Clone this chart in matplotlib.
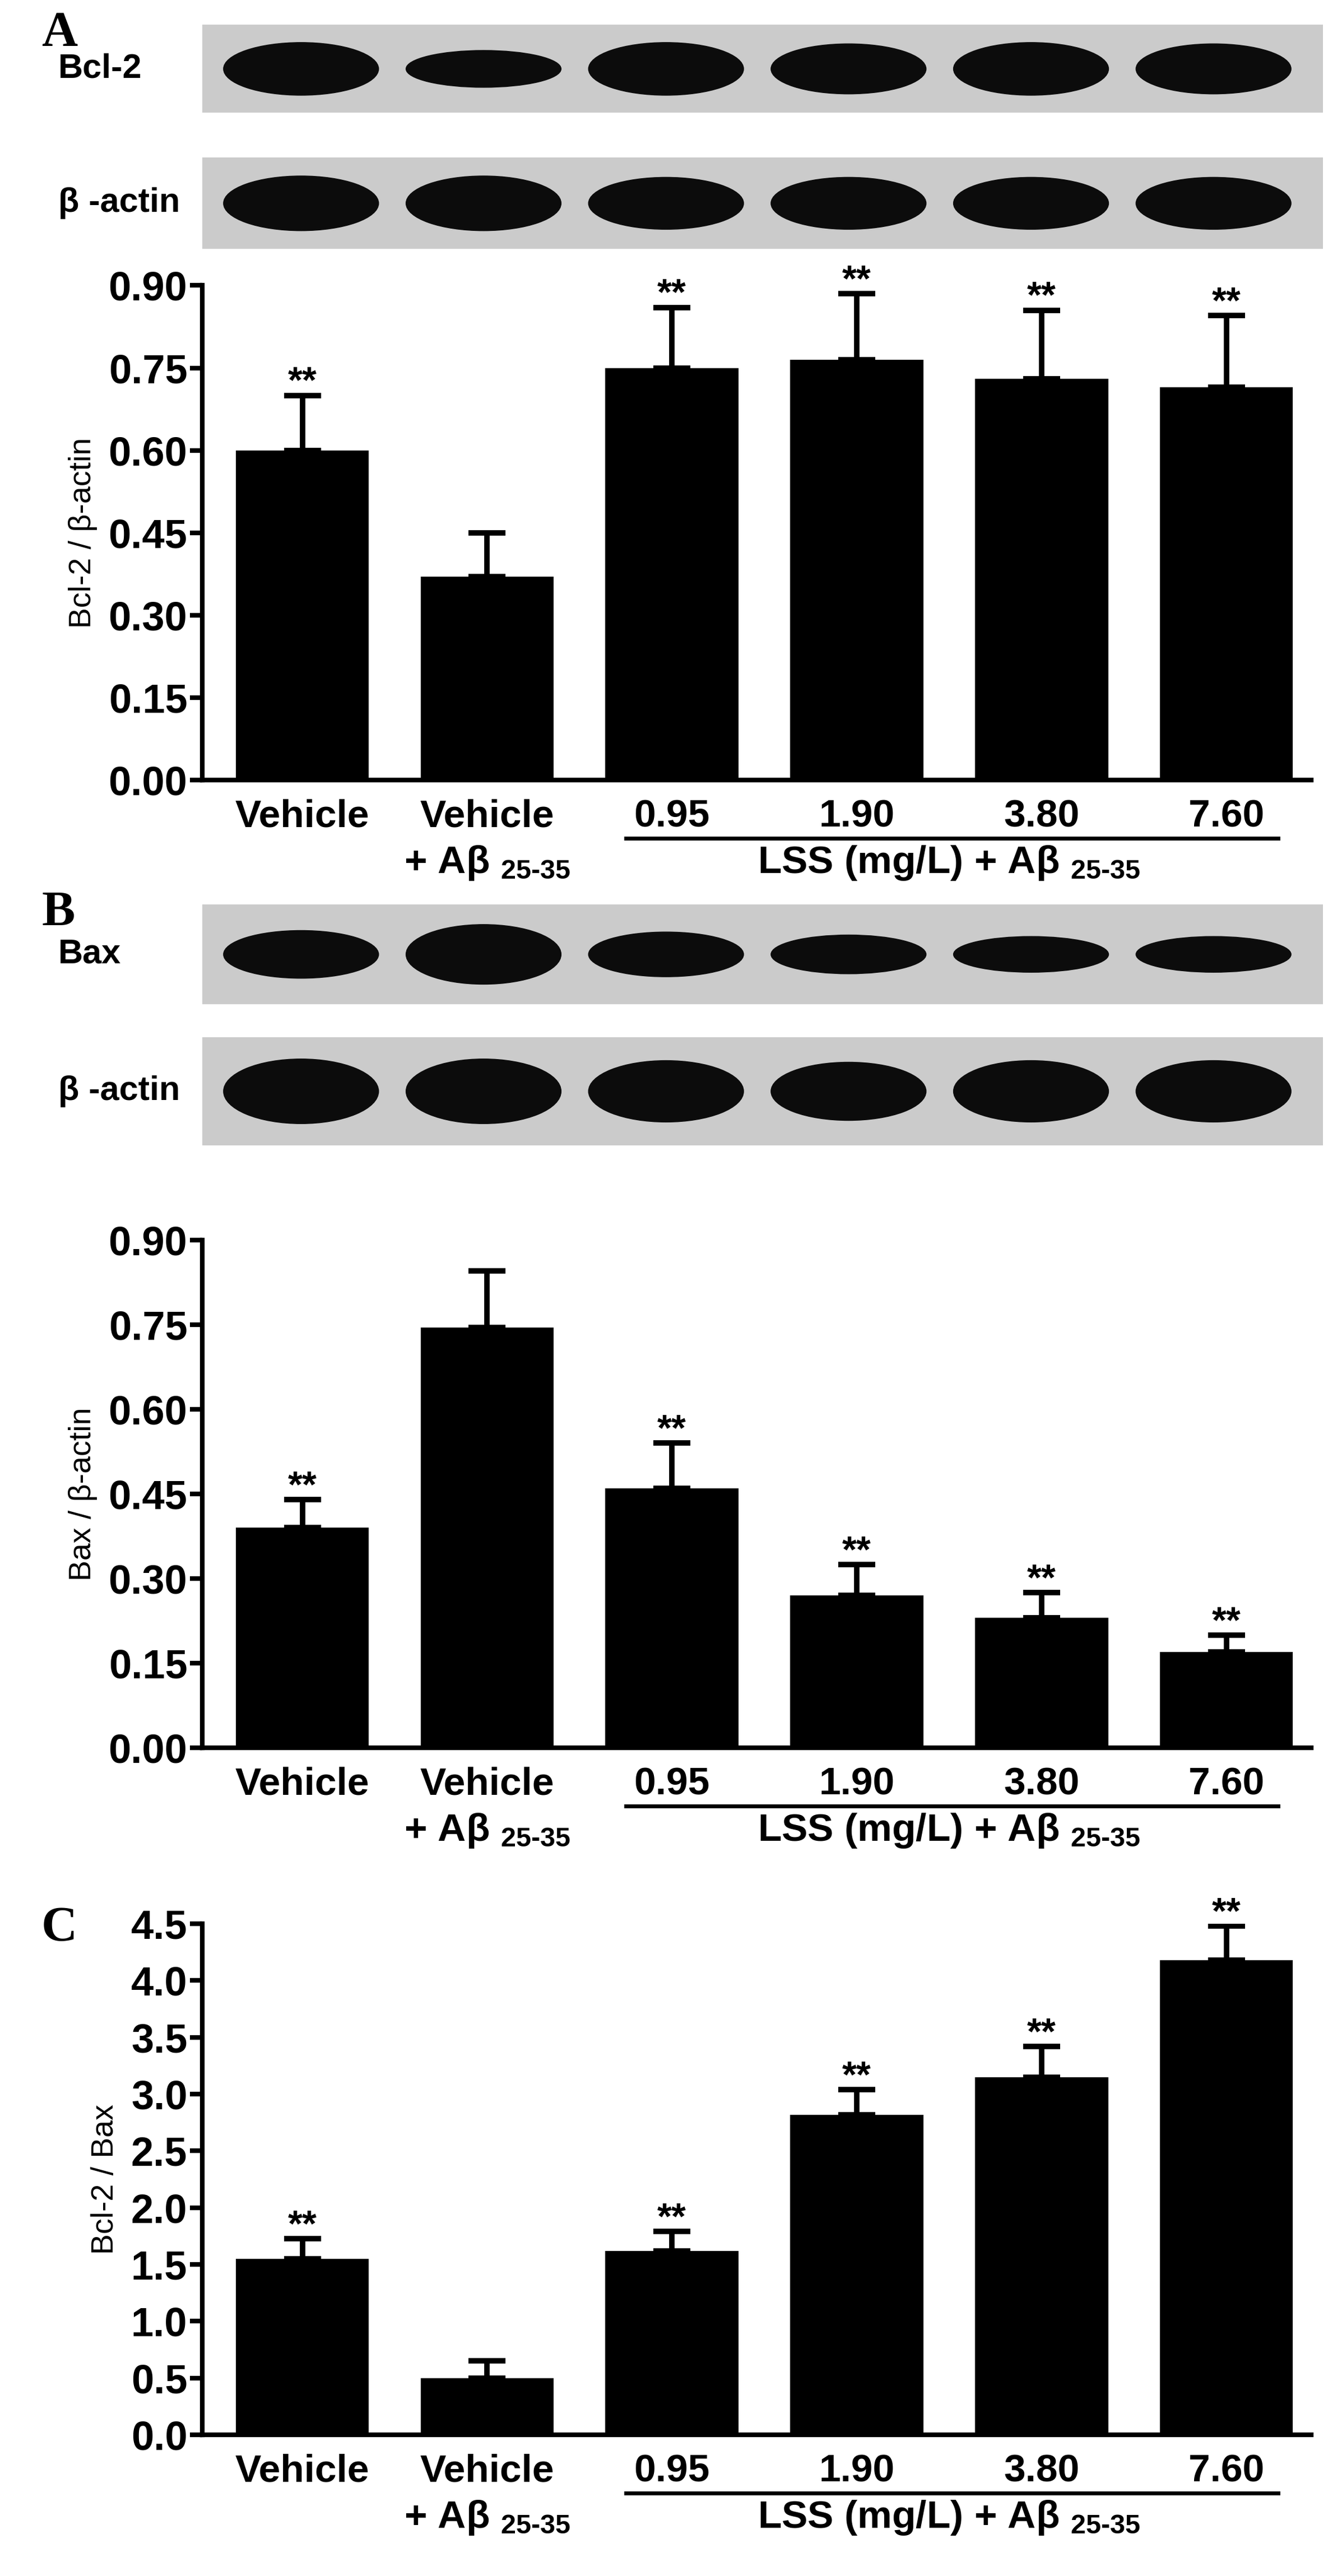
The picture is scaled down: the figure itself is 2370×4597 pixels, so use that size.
import matplotlib
matplotlib.use("Agg")
import matplotlib.pyplot as plt
from matplotlib.patches import Ellipse, Rectangle
import numpy as np

plt.rcParams["font.family"] = "Liberation Sans"
plt.rcParams["font.weight"] = "bold"
plt.rcParams["mathtext.fontset"] = "custom"
plt.rcParams["mathtext.rm"] = "Liberation Sans:bold"
plt.rcParams["mathtext.it"] = "Liberation Sans:bold"
plt.rcParams["mathtext.bf"] = "Liberation Sans:bold"

groups = ["Vehicle", "Vehicle", "0.95", "1.90", "3.80", "7.60"]
bcl2_mean = [0.60, 0.37, 0.75, 0.765, 0.73, 0.715]
bcl2_err = [0.10, 0.08, 0.11, 0.12, 0.125, 0.13]
bax_mean = [0.39, 0.745, 0.46, 0.27, 0.23, 0.17]
bax_err = [0.05, 0.10, 0.08, 0.055, 0.045, 0.03]
ratio_mean = [1.55, 0.50, 1.62, 2.82, 3.15, 4.18]
ratio_err = [0.18, 0.15, 0.17, 0.22, 0.27, 0.30]
sig = ["**", "", "**", "**", "**", "**"]

bcl2_band = [1.0, 0.7, 1.0, 0.95, 1.0, 0.95]
actinA_band = [1.0, 1.0, 0.95, 0.95, 0.95, 0.95]
bax_band = [0.8, 1.0, 0.75, 0.65, 0.6, 0.6]
actinB_band = [1.0, 1.0, 0.95, 0.9, 0.95, 0.95]

W, H = 800.0, 1552.0
fig = plt.figure(figsize=(23.7, 45.97), dpi=100)

def fx(x): return x / W
def fy(y): return 1 - y / H

def blot(y0, y1, bands, label, letter=None):
    ax = fig.add_axes([fx(122), fy(y1), fx(797) - fx(122), (y1 - y0) / H])
    ax.set_xlim(-0.54, 5.6); ax.set_ylim(0, 1)
    ax.axis("off")
    ax.add_patch(Rectangle((-0.54, 0), 6.14, 1, color="#cbcbcb", zorder=0))
    for i, b in enumerate(bands):
        ax.add_patch(Ellipse((i, 0.5), 0.85, 0.6 * b, color="#0c0c0c", zorder=1))
    fig.text(fx(35), fy((y0 + y1) / 2), label, fontsize=44, va="center", ha="left")
    if letter:
        fig.text(fx(25), fy(y0 + 5), letter, fontsize=64, family="Liberation Serif",
                 weight="bold", va="center", ha="left")

def ticks_fmt(t):
    return [f"{v:.2f}" if max(t) < 1 else f"{v:.1f}" for v in t]

def chart(ybot, ytop, means, errs, ylim, ticks, ylabel, letter=None):
    ax = fig.add_axes([fx(122), fy(ybot), fx(790) - fx(122), (ybot - ytop) / H])
    x = np.arange(len(means))
    ax.bar(x, means, width=0.72, color="black")
    ax.errorbar(x, means, yerr=[np.zeros(len(errs)), errs], fmt="none",
                ecolor="black", elinewidth=7, capsize=24, capthick=7)
    for i, (m, e, s) in enumerate(zip(means, errs, sig)):
        if s:
            ax.text(i, m + e - ylim * 0.01, s, ha="center", va="bottom", fontsize=48)
    ax.set_xlim(-0.54, 5.46); ax.set_ylim(0, ylim)
    ax.set_yticks(ticks)
    ax.set_yticklabels(ticks_fmt(ticks), fontsize=52)
    ax.set_xticks([])
    for s in ["top", "right"]:
        ax.spines[s].set_visible(False)
    for s in ["left", "bottom"]:
        ax.spines[s].set_linewidth(6)
    ax.tick_params(axis="y", width=6, length=16)
    ax.set_ylabel(ylabel, fontsize=40, labelpad=14)
    tr = ax.get_xaxis_transform()
    h = ybot - ytop
    y1 = -22 / h; y2 = -50 / h; yl = -35 / h
    for i, g in enumerate(groups):
        ax.text(i, y1, g, transform=tr, ha="center", va="center", fontsize=50)
    ax.text(1, y2, r"+ Aβ $_{25\text{-}35}$", transform=tr,
            ha="center", va="center", fontsize=50)
    ax.plot([1.75, 5.28], [yl, yl], transform=tr, color="black", lw=5, clip_on=False)
    ax.text(3.5, y2, r"LSS (mg/L) + Aβ $_{25\text{-}35}$", transform=tr, ha="center",
            va="center", fontsize=50)
    if letter:
        fig.text(fx(25), fy(ytop + 3), letter, fontsize=64, family="Liberation Serif",
                 weight="bold", va="center", ha="left")
    return ax

blot(15, 68, bcl2_band, "Bcl-2", "A")
blot(95, 150, actinA_band, "β -actin")
chart(470, 172, bcl2_mean, bcl2_err, 0.9, [0, 0.15, 0.30, 0.45, 0.60, 0.75, 0.90],
      "Bcl-2 / β-actin")
blot(545, 605, bax_band, "Bax", "B")
blot(625, 690, actinB_band, "β -actin")
chart(1053, 747, bax_mean, bax_err, 0.9, [0, 0.15, 0.30, 0.45, 0.60, 0.75, 0.90],
      "Bax / β-actin")
chart(1467, 1159, ratio_mean, ratio_err, 4.5, [0, 0.5, 1, 1.5, 2, 2.5, 3, 3.5, 4, 4.5],
      "Bcl-2 / Bax", "C")

fig.savefig("out.png", dpi=100)
